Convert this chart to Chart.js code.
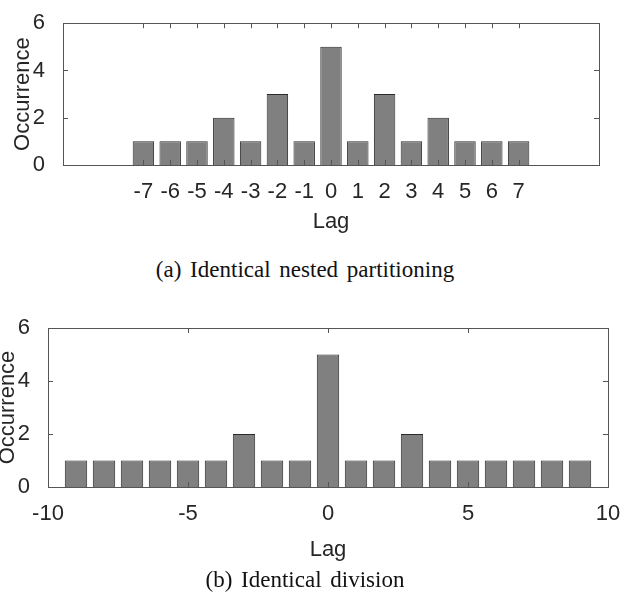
<!DOCTYPE html>
<html>
<head>
<meta charset="utf-8">
<script src="https://cdn.jsdelivr.net/npm/chart.js@4"></script>
<style>
  body { margin: 0; background: #fff; }
  #page { position: relative; width: 644px; height: 604px; overflow: hidden; }
  canvas { position: absolute; }
  .caption {
    position: absolute; left: 0; width: 610px; text-align: center;
    font-family: "Liberation Serif", "Times New Roman", serif; font-size: 23px;
    line-height: 26px; color: #111; word-spacing: 3px;
  }
</style>
</head>
<body>
<div id="page">
  <canvas id="chartA" width="644" height="240" style="left:0;top:0"></canvas>
  <canvas id="chartB" width="650" height="270" style="left:-6px;top:300px"></canvas>
  <div class="caption" style="top:257px">(a) Identical nested partitioning</div>
  <div class="caption" style="top:567px">(b) Identical division</div>
</div>
<script>
// (a) Identical nested partitioning
const lagsA = [-7, -6, -5, -4, -3, -2, -1, 0, 1, 2, 3, 4, 5, 6, 7];
const countsA = [1, 1, 1, 2, 1, 3, 1, 5, 1, 3, 1, 2, 1, 1, 1];
const xTicksA = [-7, -6, -5, -4, -3, -2, -1, 0, 1, 2, 3, 4, 5, 6, 7];

// (b) Identical division
const lagsB = [-9, -8, -7, -6, -5, -4, -3, -2, -1, 0, 1, 2, 3, 4, 5, 6, 7, 8, 9];
const countsB = [1, 1, 1, 1, 1, 1, 2, 1, 1, 5, 1, 1, 2, 1, 1, 1, 1, 1, 1];
const xTicksB = [-10, -5, 0, 5, 10];

const yTicks = [0, 2, 4, 6];

const axisFont = { family: "'Liberation Sans', Arial, sans-serif", size: 22 };
const textColor = '#262626';

// matlab style box with inward ticks on all four sides
const boxTicks = {
    id: 'boxTicks',
    afterDatasetsDraw(chart) {
        const { ctx, chartArea: a, scales } = chart;
        const len = 5;
        ctx.save();
        ctx.strokeStyle = '#555';
        ctx.lineWidth = 1;
        ctx.beginPath();
        scales.x.ticks.forEach(t => {
            const px = Math.round(scales.x.getPixelForValue(t.value)) + 0.5;
            ctx.moveTo(px, a.bottom); ctx.lineTo(px, a.bottom - len);
            ctx.moveTo(px, a.top); ctx.lineTo(px, a.top + len);
        });
        scales.y.ticks.forEach(t => {
            const py = Math.round(scales.y.getPixelForValue(t.value)) + 0.5;
            ctx.moveTo(a.left, py); ctx.lineTo(a.left + len, py);
            ctx.moveTo(a.right, py); ctx.lineTo(a.right - len, py);
        });
        ctx.stroke();
        ctx.strokeRect(Math.round(a.left) + 0.5, Math.round(a.top) + 0.5,
            Math.round(a.right - a.left), Math.round(a.bottom - a.top));
        ctx.restore();
    }
};

function makeChart(id, lags, counts, xTicks, box) {
    return new Chart(document.getElementById(id), {
        type: 'bar',
        data: {
            datasets: [{
                data: lags.map((l, i) => ({ x: l, y: counts[i] })),
                backgroundColor: '#808080',
                borderColor: '#2a2a2a',
                borderWidth: 1,
                barPercentage: 1,
                categoryPercentage: 0.8
            }]
        },
        options: {
            responsive: false,
            animation: false,
            layout: { padding: { left: 0, right: box.right, top: box.top, bottom: 0 } },
            plugins: { legend: { display: false }, tooltip: { enabled: false } },
            scales: {
                x: {
                    type: 'linear',
                    offset: false,
                    min: -10,
                    max: 10,
                    afterBuildTicks: s => { s.ticks = xTicks.map(v => ({ value: v })); },
                    afterFit: s => { s.height = box.xh; },
                    grid: { display: false },
                    border: { display: false },
                    ticks: { font: axisFont, color: textColor, padding: 6, maxRotation: 0, autoSkip: false },
                    title: { display: true, text: 'Lag', font: axisFont, color: textColor, padding: { top: 0, bottom: box.xtp } }
                },
                y: {
                    min: 0,
                    max: 6,
                    afterBuildTicks: s => { s.ticks = yTicks.map(v => ({ value: v })); },
                    afterFit: s => { s.width = box.yw; },
                    grid: { display: false },
                    border: { display: false },
                    ticks: { font: axisFont, color: textColor, padding: 10 },
                    title: { display: true, text: 'Occurrence', font: axisFont, color: textColor, padding: { top: box.ytp, bottom: 0 } }
                }
            }
        },
        plugins: [boxTicks]
    });
}

makeChart('chartA', lagsA, countsA, xTicksA, { right: 45, top: 13, xh: 75, yw: 63, xtp: 5, ytp: 10 });
makeChart('chartB', lagsB, countsB, xTicksB, { right: 36, top: 28, xh: 83, yw: 54, xtp: 7, ytp: 1 });
</script>
</body>
</html>
